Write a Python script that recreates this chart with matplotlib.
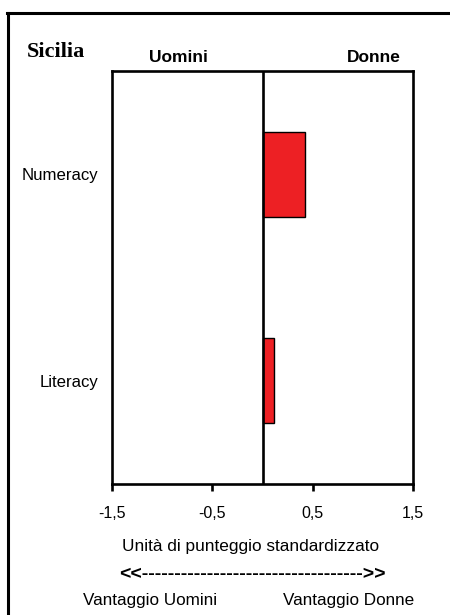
import matplotlib
matplotlib.use("Agg")
import matplotlib.pyplot as plt
from matplotlib.lines import Line2D

# Data
categories = ["Literacy", "Numeracy"]
values = [0.11, 0.42]
xticks = [-1.5, -0.5, 0.5, 1.5]
xtick_labels = ["-1,5", "-0,5", "0,5", "1,5"]
region = "Sicilia"
left_label = "Uomini"
right_label = "Donne"
xlabel = "Unità di punteggio standardizzato"
arrow_text = "<<" + "-" * 34 + ">>"
adv_left = "Vantaggio Uomini"
adv_right = "Vantaggio Donne"

plt.rcParams['font.family'] = ['Liberation Sans', 'DejaVu Sans']

W, H = 450, 615
fig = plt.figure(figsize=(W / 100, H / 100), dpi=100)
fig.patch.set_facecolor("white")

ax = fig.add_axes([112 / W, 1 - 484 / H, (413 - 112) / W, (484 - 71) / H])
ypos = list(range(len(categories)))
ax.barh(ypos, values, height=0.41, left=0, color="#ED2024",
        edgecolor="black", linewidth=1.0, zorder=3)
ax.axvline(0, color="black", linewidth=1.9, zorder=4)
ax.set_xlim(-1.5, 1.5)
ax.set_ylim(-0.5, 1.5)
ax.set_xticks(xticks)
ax.set_xticklabels(xtick_labels, fontsize=11.5)
ax.set_yticks(ypos)
ax.set_yticklabels(categories, fontsize=12.1)
ax.tick_params(axis="x", direction="out", length=5, width=1.9, pad=11)
ax.tick_params(axis="y", length=0, pad=10)
for s in ax.spines.values():
    s.set_linewidth(1.9)
    s.set_color("black")

# Outer frame (left and top only visible)
fig.add_artist(Line2D([8 / W, 8 / W], [0, 1 - 12.5 / H], transform=fig.transFigure,
                      color="black", linewidth=2.2))
fig.add_artist(Line2D([7 / W, 1], [1 - 13 / H, 1 - 13 / H], transform=fig.transFigure,
                      color="black", linewidth=2.2))

fig.text(56 / W, 1 - 52 / H, region, fontsize=16, fontweight="bold",
         family=["Liberation Serif", "DejaVu Serif"], ha="center", va="center")
fig.text(178 / W, 1 - 58 / H, left_label, fontsize=12.5, fontweight="bold",
         ha="center", va="center")
fig.text(374 / W, 1 - 58 / H, right_label, fontsize=12.5, fontweight="bold",
         ha="center", va="center")
fig.text(251 / W, 1 - 547 / H, xlabel, fontsize=12.4, ha="center", va="center")
fig.text(252 / W, 1 - 575 / H, arrow_text, fontsize=14, fontweight="bold",
         ha="center", va="center")
fig.text(150 / W, 1 - 600 / H, adv_left, fontsize=12.3, ha="center", va="center")
fig.text(349 / W, 1 - 600 / H, adv_right, fontsize=12.3, ha="center", va="center")

fig.savefig("out.png", dpi=100, facecolor="white")
